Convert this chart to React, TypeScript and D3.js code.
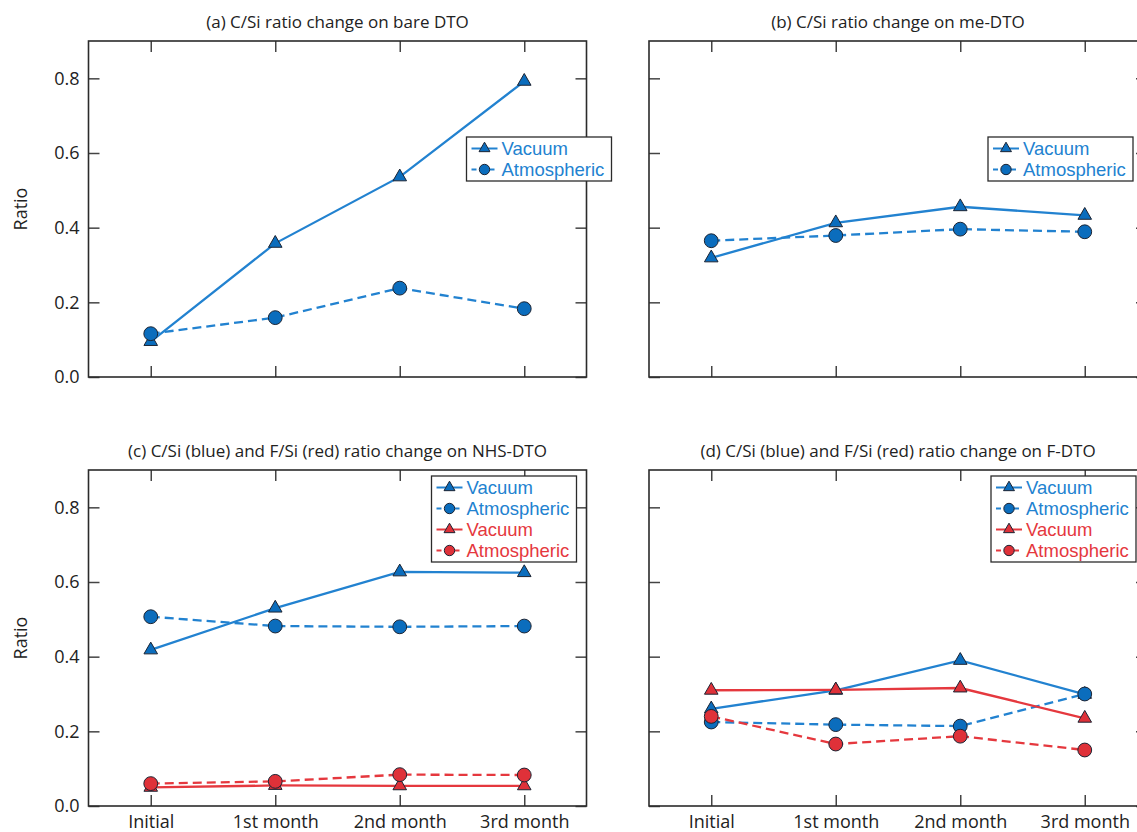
import { useEffect, useRef } from 'react';
import * as d3 from 'd3';

// values
const categories = ['Initial', '1st month', '2nd month', '3rd month'];
const yTicks = [0, 0.2, 0.4, 0.6, 0.8];

const bareVacuum = [0.095, 0.358, 0.536, 0.792];
const bareAtmos = [0.116, 0.159, 0.238, 0.183];

const meVacuum = [0.319, 0.413, 0.456, 0.433];
const meAtmos = [0.365, 0.379, 0.396, 0.389];

const nhsCVacuum = [0.418, 0.53, 0.627, 0.625];
const nhsCAtmos = [0.507, 0.482, 0.48, 0.482];
const nhsFVacuum = [0.05, 0.055, 0.054, 0.054];
const nhsFAtmos = [0.06, 0.066, 0.084, 0.083];

const fCVacuum = [0.26, 0.31, 0.39, 0.299];
const fCAtmos = [0.225, 0.218, 0.214, 0.3];
const fFVacuum = [0.31, 0.311, 0.316, 0.235];
const fFAtmos = [0.24, 0.166, 0.187, 0.15];

const W = 1137;
const H = 832;
const font = "'Open Sans', 'Noto Sans', sans-serif";
const legendFont = "'Liberation Sans', Arial, sans-serif";
const textColor = '#222';
const boxColor = '#2b2b2b';
const tickColor = '#444';
const markerStroke = '#1c2433';

const blue = { line: '#2282d0', fill: '#0b6dbd' };
const red = { line: '#e5383e', fill: '#df3139' };

type Color = typeof blue;
interface Series {
  label: string;
  values: number[];
  color: Color;
  marker: 'triangle' | 'circle';
  dashed: boolean;
}

const pair = (vac: number[], atm: number[], color: Color): Series[] => [
  { label: 'Vacuum', values: vac, color, marker: 'triangle', dashed: false },
  { label: 'Atmospheric', values: atm, color, marker: 'circle', dashed: true },
];

const panels = [
  {
    title: '(a) C/Si ratio change on bare DTO',
    left: 88.5,
    top: 41,
    yLabels: true,
    xLabels: false,
    legend: [466.5, 137],
    series: pair(bareVacuum, bareAtmos, blue),
  },
  {
    title: '(b) C/Si ratio change on me-DTO',
    left: 649,
    top: 41,
    yLabels: false,
    xLabels: false,
    legend: [988, 137],
    series: pair(meVacuum, meAtmos, blue),
  },
  {
    title: '(c) C/Si (blue) and F/Si (red) ratio change on NHS-DTO',
    left: 88.5,
    top: 470,
    yLabels: true,
    xLabels: true,
    legend: [431.5, 476],
    series: [...pair(nhsCVacuum, nhsCAtmos, blue), ...pair(nhsFVacuum, nhsFAtmos, red)],
  },
  {
    title: '(d) C/Si (blue) and F/Si (red) ratio change on F-DTO',
    left: 649,
    top: 470,
    yLabels: false,
    xLabels: true,
    legend: [991, 476],
    series: [...pair(fCVacuum, fCAtmos, blue), ...pair(fFVacuum, fFAtmos, red)],
  },
];

const boxW = 498;
const boxH = 336;
const tickLen = 11;

export default function App() {
  const ref = useRef<SVGSVGElement>(null);

  useEffect(() => {
    const svg = d3.select(ref.current);
    svg.selectAll('*').remove();
    svg.append('rect').attr('width', W).attr('height', H).attr('fill', '#fff');

    const tri = d3.symbol(d3.symbolTriangle, 80);
    const dot = d3.symbol(d3.symbolCircle, 150);
    const triSmall = d3.symbol(d3.symbolTriangle, 52);
    const dotSmall = d3.symbol(d3.symbolCircle, 85);

    panels.forEach((p) => {
      const right = p.left + boxW;
      const bottom = p.top + boxH;
      const x = d3.scalePoint<string>().domain(categories).range([p.left, right]).padding(0.5);
      const y = d3.scaleLinear().domain([0, 0.9]).range([bottom, p.top]);
      const g = svg.append('g');

      // title
      g.append('text')
        .attr('x', (p.left + right) / 2)
        .attr('y', p.top - 13)
        .attr('text-anchor', 'middle')
        .attr('font-family', font)
        .attr('font-size', 17)
        .attr('fill', textColor)
        .text(p.title);

      // axes, ticks pointing inwards on all four sides
      const styleAxis = (a: d3.Selection<SVGGElement, unknown, null, undefined>) => {
        a.select('.domain').remove();
        a.selectAll('line').attr('stroke', tickColor).attr('stroke-width', 1.5);
        a.attr('font-family', font).attr('font-size', 18);
        a.selectAll('text').attr('fill', textColor);
      };
      const leftAxis = d3.axisLeft(y).tickValues(yTicks).tickSize(-tickLen).tickPadding(9)
        .tickFormat((d) => (p.yLabels ? d3.format('.1f')(d as number) : ''));
      g.append('g').attr('transform', `translate(${p.left},0)`).call(leftAxis).call(styleAxis);
      const rightAxis = d3.axisRight(y).tickValues(yTicks).tickSize(-tickLen).tickFormat(() => '');
      g.append('g').attr('transform', `translate(${right},0)`).call(rightAxis).call(styleAxis);
      const topAxis = d3.axisTop(x).tickSize(-tickLen).tickFormat(() => '');
      g.append('g').attr('transform', `translate(0,${p.top})`).call(topAxis).call(styleAxis);
      const bottomAxis = d3.axisBottom(x).tickSize(-tickLen).tickPadding(9)
        .tickFormat((d) => (p.xLabels ? d : ''));
      g.append('g').attr('transform', `translate(0,${bottom})`).call(bottomAxis).call(styleAxis);

      g.append('rect')
        .attr('x', p.left)
        .attr('y', p.top)
        .attr('width', boxW)
        .attr('height', boxH)
        .attr('fill', 'none')
        .attr('stroke', boxColor)
        .attr('stroke-width', 1.6);

      if (p.yLabels) {
        g.append('text')
          .attr('transform', `translate(27,${(p.top + bottom) / 2}) rotate(-90)`)
          .attr('text-anchor', 'middle')
          .attr('font-family', font)
          .attr('font-size', 18)
          .attr('fill', textColor)
          .text('Ratio');
      }

      // lines
      const line = d3.line<number>()
        .x((_, i) => x(categories[i])!)
        .y((d) => y(d));
      p.series.forEach((s) => {
        g.append('path')
          .datum(s.values)
          .attr('d', line)
          .attr('fill', 'none')
          .attr('stroke', s.color.line)
          .attr('stroke-width', 2.3)
          .attr('stroke-dasharray', s.dashed ? '9,5' : null);
      });
      // markers
      p.series.forEach((s) => {
        g.selectAll(null)
          .data(s.values)
          .join('path')
          .attr('transform', (d, i) => `translate(${x(categories[i])},${y(d)})`)
          .attr('d', s.marker === 'triangle' ? tri() : dot())
          .attr('fill', s.color.fill)
          .attr('stroke', markerStroke)
          .attr('stroke-width', 1);
      });

      // legend
      const [lx, ly] = p.legend;
      const rowH = 21;
      const lg = g.append('g').attr('transform', `translate(${lx},${ly})`);
      lg.append('rect')
        .attr('width', 145)
        .attr('height', p.series.length * rowH + 2)
        .attr('fill', '#fff')
        .attr('stroke', boxColor)
        .attr('stroke-width', 1.3);
      p.series.forEach((s, i) => {
        const cy = 11.5 + i * rowH;
        lg.append('line')
          .attr('x1', 5)
          .attr('x2', 31)
          .attr('y1', cy)
          .attr('y2', cy)
          .attr('stroke', s.color.line)
          .attr('stroke-width', 2)
          .attr('stroke-dasharray', s.dashed ? '5,4' : null);
        lg.append('path')
          .attr('transform', `translate(18,${cy})`)
          .attr('d', s.marker === 'triangle' ? triSmall() : dotSmall())
          .attr('fill', s.color.fill)
          .attr('stroke', markerStroke)
          .attr('stroke-width', 1);
        lg.append('text')
          .attr('x', 35)
          .attr('y', cy)
          .attr('dy', '0.35em')
          .attr('font-family', legendFont)
          .attr('font-size', 18.5)
          .attr('fill', s.color.line)
          .text(s.label);
      });
    });
  }, []);

  return (
    <svg
      ref={ref}
      width={W}
      height={H}
      style={{ position: 'absolute', left: 0, top: 0, display: 'block' }}
    />
  );
}
